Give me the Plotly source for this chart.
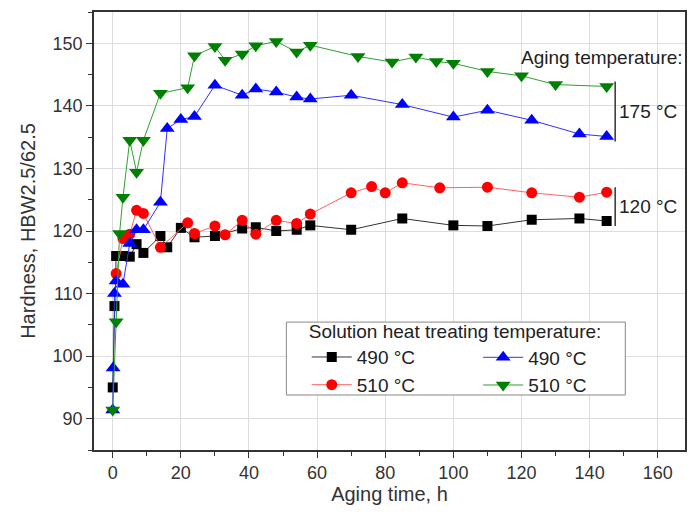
import plotly.graph_objects as go

# Aging time (h) and hardness (HBW2.5/62.5)
t_490_120 = [0, 0.5, 1, 3, 5, 7, 9, 14, 16, 20, 24, 30, 38, 42, 48, 54, 58, 70, 85, 100, 110, 123, 137, 145]
h_490_120 = [95.0, 108.0, 116.0, 116.0, 115.9, 117.9, 116.5, 119.2, 117.4, 120.5, 119.0, 119.2, 120.4, 120.6,
             120.0, 120.2, 120.9, 120.2, 122.0, 120.9, 120.8, 121.8, 122.0, 121.6]

t_510_120 = [1, 3, 5, 7, 9, 14, 22, 24, 30, 33, 38, 42, 48, 54, 58, 70, 76, 80, 85, 96, 110, 123, 137, 145]
h_510_120 = [113.2, 118.8, 119.5, 123.3, 122.8, 117.4, 121.3, 119.6, 120.8, 119.4, 121.7, 119.5, 121.7, 121.2,
             122.7, 126.1, 127.1, 126.1, 127.7, 126.9, 127.0, 126.1, 125.4, 126.2]

t_490_175 = [0, 0.1, 0.5, 1, 3, 5, 7, 9, 14, 16, 20, 24, 30, 38, 42, 48, 54, 58, 70, 85, 100, 110, 123, 137, 145]
h_490_175 = [91.4, 98.1, 110.0, 112.0, 111.5, 118.0, 120.2, 120.2, 124.6, 136.4, 137.8, 138.3, 143.3, 141.7,
             142.7, 142.2, 141.4, 141.1, 141.7, 140.2, 138.2, 139.3, 137.7, 135.5, 135.1]

t_510_175 = [0, 1, 2, 3, 5, 7, 9, 14, 22, 24, 30, 33, 38, 42, 48, 54, 58, 72, 82, 89, 95, 100, 110, 120, 130, 145]
h_510_175 = [91.4, 105.5, 119.6, 125.4, 134.5, 129.4, 134.5, 142.0, 142.9, 148.0, 149.5, 147.3, 148.3, 149.6,
             150.3, 148.6, 149.7, 147.9, 147.0, 147.8, 147.1, 146.8, 145.5, 144.8, 143.4, 143.1]

x_ticks = [0, 20, 40, 60, 80, 100, 120, 140, 160]
y_ticks = [90, 100, 110, 120, 130, 140, 150]

FONT = "Arial, 'Liberation Sans', sans-serif"

series = [
    ("490 °C", t_490_120, h_490_120, "#000000", "#333333", "square", 10, "legend"),
    ("510 °C", t_510_120, h_510_120, "#ff0000", "#ff6060", "circle", 11, "legend"),
    ("490 °C", t_490_175, h_490_175, "#0000ff", "#3030ff", "triangle-up", 13, "legend2"),
    ("510 °C", t_510_175, h_510_175, "#008000", "#30a030", "triangle-down", 13, "legend2"),
]

fig = go.Figure()
for name, t, h, mc, lc, sym, sz, lg in series:
    fig.add_trace(go.Scatter(
        x=t, y=h, name=name, mode="lines+markers", legend=lg,
        line=dict(color=lc, width=1),
        marker=dict(symbol=sym, size=sz, color=mc, line=dict(width=0)),
    ))

# brackets for aging temperature groups
xb = 147.5
pad = 0.8
top175 = max(h_510_175[-1], h_490_175[-1]) + pad
bot175 = min(h_510_175[-1], h_490_175[-1]) - pad
top120 = max(h_510_120[-1], h_490_120[-1]) + pad
bot120 = min(h_510_120[-1], h_490_120[-1]) - pad
for y0, y1 in [(bot175, top175), (bot120, top120)]:
    fig.add_shape(type="line", xref="x", yref="y", x0=xb, x1=xb, y0=y0, y1=y1,
                  line=dict(color="#333333", width=1.5))

# legend frame
fig.add_shape(type="rect", xref="paper", yref="paper", x0=0.3255, x1=0.899, y0=0.1256, y1=0.292,
              line=dict(color="#888888", width=1), fillcolor="white", layer="above")

ann_font = dict(family=FONT, size=19, color="#222222")
fig.add_annotation(x=1, xref="paper", xanchor="right", y=147.7, yref="y", yanchor="middle",
                   text="Aging temperature:", showarrow=False, font=ann_font)
fig.add_annotation(x=xb + 0.6, xref="x", xanchor="left", y=(top175 + bot175) / 2, yref="y",
                   yanchor="middle", text="175 °C", showarrow=False, font=ann_font)
fig.add_annotation(x=xb + 0.6, xref="x", xanchor="left", y=(top120 + bot120) / 2, yref="y",
                   yanchor="middle", text="120 °C", showarrow=False, font=ann_font)

axis_common = dict(
    showline=True, linecolor="#333333", linewidth=1.5, mirror=True,
    showgrid=True, gridcolor="#dddddd", gridwidth=1,
    ticks="outside", ticklen=6, tickwidth=1.2, tickcolor="#333333",
    zeroline=False,
    tickfont=dict(family=FONT, size=18, color="#333333"),
)

fig.update_xaxes(
    range=[-5.5, 168], tickvals=x_ticks, ticktext=[str(v) for v in x_ticks],
    minor=dict(ticks="outside", ticklen=4, tickcolor="#333333", dtick=10, tick0=0, showgrid=False),
    title=dict(text="Aging time, h", font=dict(family=FONT, size=20, color="#333333"), standoff=4),
    **axis_common,
)
fig.update_yaxes(
    range=[85, 155], tickvals=y_ticks, ticktext=[str(v) for v in y_ticks],
    minor=dict(ticks="outside", ticklen=4, tickcolor="#333333", dtick=5, tick0=0, showgrid=False),
    title=dict(text="Hardness, HBW2.5/62.5", font=dict(family=FONT, size=20, color="#333333"), standoff=12),
    **axis_common,
)

leg_font = dict(family=FONT, size=19, color="#222222")
fig.update_layout(
    width=689, height=514,
    margin=dict(l=94, r=2, t=12, b=64),
    paper_bgcolor="white", plot_bgcolor="white",
    font=dict(family=FONT, size=18, color="#222222"),
    legend=dict(
        title=dict(text="Solution heat treating temperature:", font=leg_font, side="top"),
        orientation="v", x=0.36, xanchor="left", y=0.104, yanchor="bottom",
        bgcolor="rgba(0,0,0,0)", borderwidth=0, font=leg_font,
        tracegroupgap=0, itemsizing="trace", itemwidth=40,
    ),
    legend2=dict(
        orientation="v", x=0.65, xanchor="left", y=0.104, yanchor="bottom",
        bgcolor="rgba(0,0,0,0)", borderwidth=0, font=leg_font,
        tracegroupgap=0, itemsizing="trace", itemwidth=40,
    ),
    showlegend=True,
)

fig.write_html("out.html")
